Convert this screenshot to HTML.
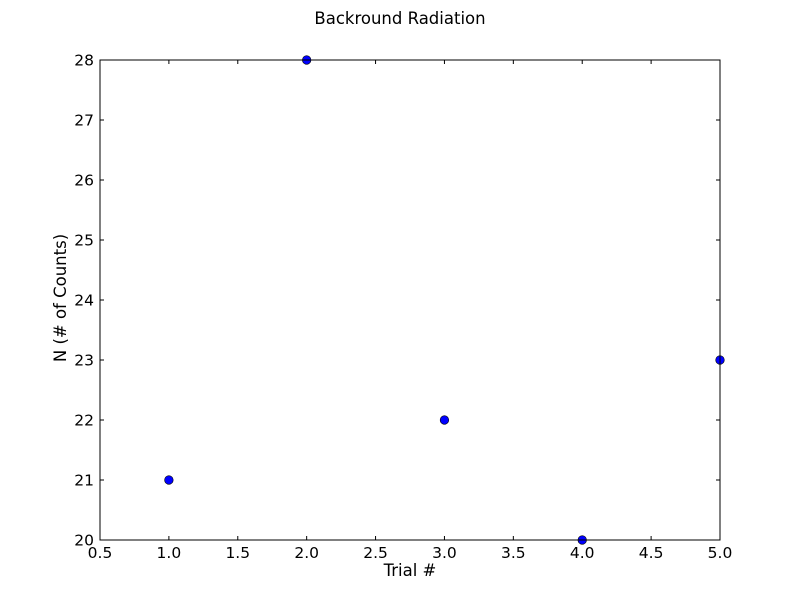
<!DOCTYPE html>
<html><head><meta charset="utf-8"><style>
body{margin:0;background:#fff;}
text{font-family:"DejaVu Sans","Liberation Sans",sans-serif;}
</style></head><body>
<svg id="chart" width="800" height="600" xmlns="http://www.w3.org/2000/svg">
<rect width="800" height="600" fill="#fff"/>
<text x="400" y="24" font-size="16.5" text-anchor="middle">Backround Radiation</text>
<g id="ticks"></g>
<g id="marks"></g>
<rect x="100" y="60" width="620" height="480" fill="none" stroke="#000" stroke-width="1"/>
<text x="410" y="576" font-size="16.5" text-anchor="middle">Trial #</text>
<text transform="translate(66,298) rotate(-90)" font-size="16.5" text-anchor="middle">N (# of Counts)</text>
</svg>
<script>
const trials=[1,2,3,4,5];
const counts=[21,28,22,20,23];
const xTicks=["0.5","1.0","1.5","2.0","2.5","3.0","3.5","4.0","4.5","5.0"];
const yTicks=["20","21","22","23","24","25","26","27","28"];
const X0=0.5,X1=5.0,Y0=20,Y1=28;
const L=100,R=720,T=60,B=540;
const sx=v=>L+(v-X0)/(X1-X0)*(R-L);
const sy=v=>B-(v-Y0)/(Y1-Y0)*(B-T);
const NS="http://www.w3.org/2000/svg";
const tg=document.getElementById('ticks'),mg=document.getElementById('marks');
function mk(tag,attrs,parent){const e=document.createElementNS(NS,tag);for(const k in attrs)e.setAttribute(k,attrs[k]);parent.appendChild(e);return e;}
xTicks.forEach(t=>{const x=sx(parseFloat(t));
 const a=mk('line',{x1:x,x2:x,y1:B,y2:B-4,stroke:'#000'},tg);
 
 
 const b=mk('line',{x1:x,x2:x,y1:T,y2:T+4,stroke:'#000'},tg);
 
 
 const s=mk('text',{x:x,y:B+18,'font-size':15.5,'text-anchor':'middle'},tg);s.textContent=t;
 
 
});
yTicks.forEach(t=>{const y=sy(parseFloat(t));
 const a=mk('line',{x1:L,x2:L+4,y1:y,y2:y,stroke:'#000'},tg);
 
 
 const b=mk('line',{x1:R,x2:R-4,y1:y,y2:y,stroke:'#000'},tg);
 
 
 const s=mk('text',{x:L-6,y:y+5.5,'font-size':15.5,'text-anchor':'end'},tg);s.textContent=t;
 
 
});
trials.forEach((v,i)=>{
 const c=mk('circle',{cx:sx(v),cy:sy(counts[i]),r:4.3,fill:'#0000ff',stroke:'#000','stroke-width':0.6},mg);
 
 
});
</script>
</body></html>
